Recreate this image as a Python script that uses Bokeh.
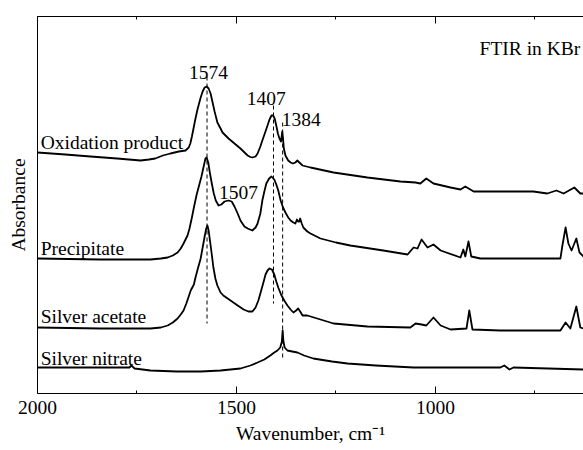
from bokeh.plotting import figure
from bokeh.models import LinearAxis, FixedTicker, Range1d
from bokeh.core.properties import value
from bokeh.embed import file_html
from bokeh.resources import INLINE

# ---- data (absorbance in arbitrary units, spectra stacked) ----
ox_wn = [2000, 1930, 1867, 1800, 1741, 1720, 1704, 1685, 1666, 1645, 1628, 1620, 1616, 1612,
         1608, 1603, 1598, 1590, 1585, 1580, 1575, 1570, 1565, 1560, 1555, 1548, 1540, 1535,
         1520, 1508, 1490, 1472, 1465, 1460, 1452, 1447, 1440, 1435, 1428, 1422, 1417, 1412,
         1408, 1404, 1400, 1396, 1392, 1388, 1385, 1383, 1381, 1377, 1370, 1364, 1358, 1352,
         1347, 1342, 1334, 1314, 1256, 1171, 1088, 1050, 1038, 1023, 1005, 962, 937, 925,
         904, 837, 754, 719, 696, 678, 651, 636, 628]
ox_a = [2.41, 2.39, 2.37, 2.35, 2.33, 2.34, 2.35, 2.38, 2.40, 2.42, 2.43, 2.46, 2.50, 2.57,
        2.65, 2.75, 2.84, 2.96, 3.02, 3.06, 3.07, 3.05, 3.00, 2.91, 2.82, 2.71, 2.65, 2.61,
        2.55, 2.51, 2.45, 2.38, 2.365, 2.36, 2.37, 2.40, 2.47, 2.53, 2.61, 2.68, 2.74, 2.78,
        2.78, 2.75, 2.68, 2.60, 2.55, 2.52, 2.62, 2.55, 2.45, 2.38, 2.33, 2.31, 2.30, 2.31,
        2.33, 2.31, 2.28, 2.26, 2.21, 2.16, 2.12, 2.11, 2.10, 2.15, 2.10, 2.06, 2.04, 2.07,
        2.02, 2.02, 2.02, 2.00, 2.03, 2.00, 2.06, 2.00, 2.00]

pr_wn = [2000, 1842, 1716, 1690, 1673, 1660, 1648, 1640, 1633, 1623, 1618, 1612, 1606, 1600,
         1594, 1588, 1583, 1578, 1575, 1571, 1567, 1562, 1557, 1552, 1545, 1538, 1530, 1520,
         1512, 1505, 1497, 1490, 1480, 1472, 1460, 1452, 1447, 1440, 1435, 1430, 1425, 1418,
         1412, 1405, 1400, 1395, 1389, 1383, 1377, 1370, 1364, 1357, 1352, 1348, 1345, 1342,
         1340, 1336, 1332, 1322, 1314, 1289, 1250, 1214, 1131, 1070, 1055, 1045, 1035, 1020,
         1005, 987, 937, 930, 925, 917, 910, 887, 837, 686, 681, 673, 666, 658, 646, 638, 628]
pr_a = [1.35, 1.34, 1.34, 1.35, 1.36, 1.38, 1.41, 1.45, 1.50, 1.58, 1.65, 1.76, 1.88, 1.99,
        2.08, 2.17, 2.26, 2.35, 2.36, 2.31, 2.21, 2.10, 2.00, 1.93, 1.88, 1.89, 1.92, 1.93,
        1.92, 1.87, 1.80, 1.73, 1.67, 1.65, 1.63, 1.66, 1.70, 1.80, 1.93, 2.02, 2.10, 2.15,
        2.17, 2.14, 2.09, 2.03, 1.93, 1.86, 1.81, 1.76, 1.73, 1.71, 1.70, 1.74, 1.72, 1.72,
        1.75, 1.70, 1.66, 1.62, 1.60, 1.55, 1.51, 1.48, 1.43, 1.39, 1.46, 1.45, 1.54, 1.46,
        1.49, 1.43, 1.36, 1.44, 1.37, 1.52, 1.37, 1.35, 1.35, 1.35, 1.48, 1.66, 1.50, 1.43,
        1.55, 1.41, 1.37]

ac_wn = [2000, 1842, 1716, 1690, 1673, 1660, 1648, 1640, 1633, 1626, 1620, 1615, 1611, 1607,
         1603, 1597, 1590, 1585, 1580, 1576, 1573, 1570, 1567, 1563, 1558, 1553, 1548, 1540,
         1533, 1515, 1497, 1482, 1470, 1460, 1452, 1445, 1440, 1433, 1427, 1422, 1417, 1411,
         1405, 1400, 1395, 1388, 1380, 1372, 1364, 1357, 1350, 1345, 1340, 1334, 1322, 1256,
         1171, 1063, 1050, 1035, 1023, 1005, 987, 962, 922, 915, 907, 837, 686, 673, 661, 646,
         636, 628]
ac_a = [0.66, 0.65, 0.65, 0.66, 0.68, 0.71, 0.75, 0.79, 0.83, 0.90, 0.97, 1.03, 1.06, 1.09,
        1.16, 1.25, 1.35, 1.46, 1.57, 1.65, 1.68, 1.63, 1.54, 1.42, 1.26, 1.15, 1.08, 1.01,
        0.98, 0.93, 0.88, 0.84, 0.82, 0.82, 0.86, 0.93, 1.00, 1.10, 1.19, 1.23, 1.25, 1.24,
        1.19, 1.12, 1.06, 0.99, 0.93, 0.88, 0.84, 0.81, 0.83, 0.85, 0.82, 0.78, 0.78, 0.70,
        0.67, 0.66, 0.70, 0.69, 0.68, 0.76, 0.68, 0.64, 0.65, 0.83, 0.64, 0.63, 0.63, 0.71,
        0.65, 0.87, 0.66, 0.65]

ni_wn = [2000, 1842, 1769, 1764, 1756, 1716, 1650, 1590, 1540, 1490, 1465, 1447, 1430, 1415,
         1405, 1397, 1390, 1386, 1384, 1382, 1379, 1372, 1360, 1347, 1330, 1307, 1260, 1221,
         1150, 1055, 837, 827, 814, 804, 628]
ni_a = [0.26, 0.26, 0.26, 0.28, 0.25, 0.23, 0.22, 0.22, 0.23, 0.25, 0.28, 0.31, 0.34, 0.38,
        0.41, 0.43, 0.46, 0.52, 0.63, 0.52, 0.46, 0.43, 0.42, 0.41, 0.38, 0.35, 0.32, 0.30,
        0.28, 0.26, 0.26, 0.28, 0.24, 0.26, 0.24]

series_labels = ["Oxidation product", "Precipitate", "Silver acetate", "Silver nitrate"]
peak_wn = [1574, 1407, 1384]
peak_labels = ["1574", "1407", "1384"]
shoulder_labels = ["1507"]
x_ticks = [2000, 1500, 1000]
x_minor_ticks = [1750, 1250, 750]

FONT = "Liberation Serif"
FS = "19.5px"

p = figure(width=583, height=450, x_range=Range1d(2000, 628), y_range=Range1d(0, 3.77),
           output_backend="svg", toolbar_location=None,
           min_border_left=37, min_border_right=0, min_border_top=16, min_border_bottom=57)
p.outline_line_color = None
p.grid.visible = False
p.background_fill_color = "white"
p.border_fill_color = "white"

xa = p.xaxis[0]
xa.ticker = FixedTicker(ticks=x_ticks, minor_ticks=x_minor_ticks)
xa.major_tick_in = 7
xa.major_tick_out = 0
xa.minor_tick_in = 3
xa.minor_tick_out = 0
xa.major_label_standoff = 7
xa.major_label_text_font = FONT
xa.major_label_text_font_size = FS
xa.major_label_text_color = "black"
xa.axis_label = "Wavenumber, cm\u207b\u00b9"
xa.axis_label_text_font = FONT
xa.axis_label_text_font_size = FS
xa.axis_label_text_font_style = "normal"
xa.axis_label_text_color = "black"
xa.axis_label_standoff = 6
xa.axis_line_color = "black"
xa.major_tick_line_color = "black"
xa.minor_tick_line_color = "black"

ya = p.yaxis[0]
ya.ticker = FixedTicker(ticks=[])
ya.major_tick_in = 0
ya.major_tick_out = 0
ya.minor_tick_in = 0
ya.minor_tick_out = 0
ya.axis_label = "Absorbance"
ya.axis_label_text_font = FONT
ya.axis_label_text_font_size = FS
ya.axis_label_text_font_style = "normal"
ya.axis_label_text_color = "black"
ya.axis_label_standoff = 9
ya.axis_line_color = "black"

# top frame line with inward ticks (no labels): short ticks everywhere, long ticks at majors
top_short = LinearAxis(ticker=FixedTicker(ticks=[], minor_ticks=x_minor_ticks),
                       major_tick_in=0, major_tick_out=0, minor_tick_in=3, minor_tick_out=0,
                       axis_line_color="black", minor_tick_line_color="black")
p.add_layout(top_short, "above")
top_long = LinearAxis(ticker=FixedTicker(ticks=[], minor_ticks=x_ticks),
                      major_tick_in=0, major_tick_out=0, minor_tick_in=7, minor_tick_out=0,
                      axis_line_color="black", minor_tick_line_color="black")
p.add_layout(top_long, "above")

# dashed peak markers
p.segment(x0=peak_wn, x1=peak_wn, y0=[3.17, 2.88, 2.71], y1=[0.70, 0.90, 0.35],
          line_color="black", line_width=1, line_dash="4 3")

for wn, a in [(ox_wn, ox_a), (pr_wn, pr_a), (ac_wn, ac_a), (ni_wn, ni_a)]:
    p.line(wn, a, line_color="black", line_width=1.8, line_join="round")

# series labels
p.text(x=[1992] * 4, y=[2.51, 1.45, 0.77, 0.35], text=series_labels,
       text_font=value(FONT), text_font_size=value(FS), text_color="black",
       text_align="left", text_baseline="alphabetic")
# peak labels
p.text(x=[1570, 1425, 1337, 1495], y=[3.21, 2.95, 2.74, 2.01],
       text=peak_labels + shoulder_labels,
       text_font=value(FONT), text_font_size=value(FS), text_color="black",
       text_align="center", text_baseline="alphabetic")
p.text(x=[636], y=[3.45], text=["FTIR in KBr"],
       text_font=value(FONT), text_font_size=value(FS), text_color="black",
       text_align="right", text_baseline="alphabetic")

open("out.html", "w").write(file_html(p, INLINE))
